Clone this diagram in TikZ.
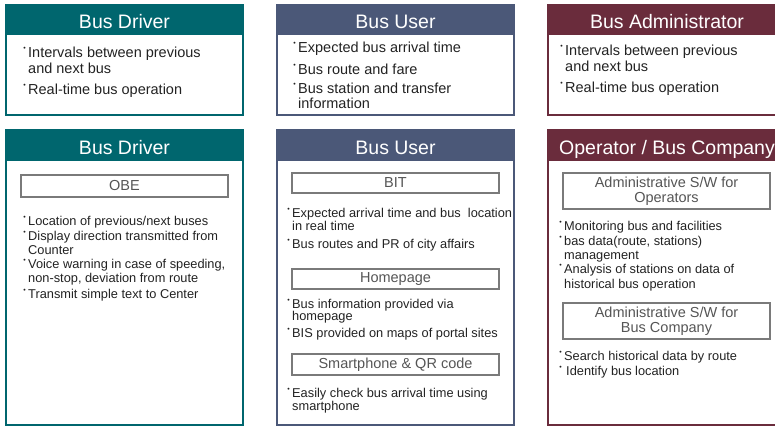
\documentclass[tikz,border=0pt]{standalone}
\usepackage{fontspec}
\setmainfont{Liberation Sans}
\usepackage{tikz}

\definecolor{drivercol}{HTML}{00666E}
\definecolor{usercol}{HTML}{4B5878}
\definecolor{admincol}{HTML}{6A2C3C}
\definecolor{bodytext}{HTML}{222222}
\definecolor{boxline}{HTML}{7A7A7A}
\definecolor{boxtext}{HTML}{555555}

% small raised dot hanging left of an item
\newcommand{\bul}{\makebox[0pt][r]{\raisebox{0.45em}{\fontsize{7}{7}\selectfont\textbullet}\hspace{2.5pt}}}

\begin{document}
\begin{tikzpicture}[x=1pt,y=-1pt,
    headtxt/.style={text=white, inner sep=0pt, anchor=base, font=\fontsize{19.5}{22}\selectfont},
    topitem/.style={anchor=west, inner sep=0pt, yshift=-3pt, text=bodytext, text height=0.75em, text depth=0.25em, font=\fontsize{14.5}{16}\selectfont},
    item/.style={topitem, font=\fontsize{12.8}{14}\selectfont},
    subbox/.style={draw=boxline, line width=1.3pt, text=boxtext, inner sep=0pt, align=center, minimum width=207pt, font=\fontsize{14.5}{15.5}\selectfont}]
  \useasboundingbox (0,0) rectangle (775,426);

  % cards, top row
  \draw[drivercol, line width=1.5pt] (6,5) rectangle (243,115);
  \fill[drivercol] (6,5) rectangle (243,35);
  \draw[usercol, line width=1.5pt] (277,5) rectangle (514,115);
  \fill[usercol] (277,5) rectangle (514,35);
  \draw[admincol, line width=1.5pt] (548,5) rectangle (786,115);
  \fill[admincol] (548,5) rectangle (786,35);

  % cards, bottom row
  \draw[drivercol, line width=1.5pt] (6,130) rectangle (243,425);
  \fill[drivercol] (6,130) rectangle (243,161);
  \draw[usercol, line width=1.5pt] (277,130) rectangle (514,425);
  \fill[usercol] (277,130) rectangle (514,161);
  \draw[admincol, line width=1.5pt] (548,130) rectangle (786,425);
  \fill[admincol] (548,130) rectangle (786,161);

  % headers
  \node[headtxt] (drvtop) at (124.5,28.5) {Bus Driver};
  \node[headtxt] (usrtop) at (395.5,28.5) {Bus User};
  \node[headtxt] (admtop) at (667,28.5) {Bus Administrator};
  \node[headtxt] (drvbot) at (124.5,154) {Bus Driver};
  \node[headtxt] (usrbot) at (395.5,154) {Bus User};
  \node[headtxt] (admbot) at (667,154) {Operator / Bus Company};

  % top row items
  \foreach \yy/\txt [count=\i] in {52/\bul Intervals between previous, 68/and next bus, 89/\bul Real-time bus operation}
    \node[topitem] (drv-\i) at (28,\yy) {\txt};
  \foreach \yy/\txt [count=\i] in {47/\bul Expected bus arrival time, 69/\bul Bus route and fare, 88/\bul Bus station and transfer, 103/information}
    \node[topitem] (usr-\i) at (298,\yy) {\txt};
  \foreach \yy/\txt [count=\i] in {50/\bul Intervals between previous, 66/and next bus, 87/\bul Real-time bus operation}
    \node[topitem] (adm-\i) at (565,\yy) {\txt};

  % bottom left: OBE
  \node[subbox, minimum height=22pt] (obe) at (124.5,186) {OBE};
  \foreach \yy/\txt [count=\i] in {220/{\bul Location of previous/next buses}, 235/\bul Display direction transmitted from, 249/Counter,
      263/{\bul Voice warning in case of speeding,}, 277/{non-stop, deviation from route}, 293/\bul Transmit simple text to Center}
    \node[item] (obe-\i) at (28,\yy) {\txt};

  % bottom middle: BIT, homepage, smartphone
  \node[subbox, minimum height=20pt] (bit) at (395.5,183) {BIT};
  \foreach \yy/\txt [count=\i] in {212/\bul Expected arrival time and bus\ \ location, 225/in real time, 243/\bul Bus routes and PR of city affairs}
    \node[item] (bit-\i) at (292,\yy) {\txt};
  \node[subbox, minimum height=20pt] (home) at (395.5,279) {Homepage};
  \foreach \yy/\txt [count=\i] in {303/\bul Bus information provided via, 315/homepage, 332/\bul BIS provided on maps of portal sites}
    \node[item] (home-\i) at (292,\yy) {\txt};
  \node[subbox, minimum height=21pt] (smart) at (395.5,364.5) {Smartphone \& QR code};
  \foreach \yy/\txt [count=\i] in {392/\bul Easily check bus arrival time using, 405/smartphone}
    \node[item] (smart-\i) at (292,\yy) {\txt};

  % bottom right: administrative software
  \node[subbox, minimum height=36pt] (swop) at (666.5,191) {Administrative S/W for\\Operators};
  \foreach \yy/\txt [count=\i] in {225/\bul Monitoring bus and facilities, 240/{\bul bas data(route, stations)}, 254/management,
      268/\bul Analysis of stations on data of, 283/historical bus operation}
    \node[item] (swop-\i) at (564,\yy) {\txt};
  \node[subbox, minimum height=36pt] (swco) at (666.5,321) {Administrative S/W for\\Bus Company};
  \foreach \yy/\txt [count=\i] in {355/\bul Search historical data by route, 370/\bul\hspace{2pt}Identify bus location}
    \node[item] (swco-\i) at (564,\yy) {\txt};
\end{tikzpicture}
\end{document}
